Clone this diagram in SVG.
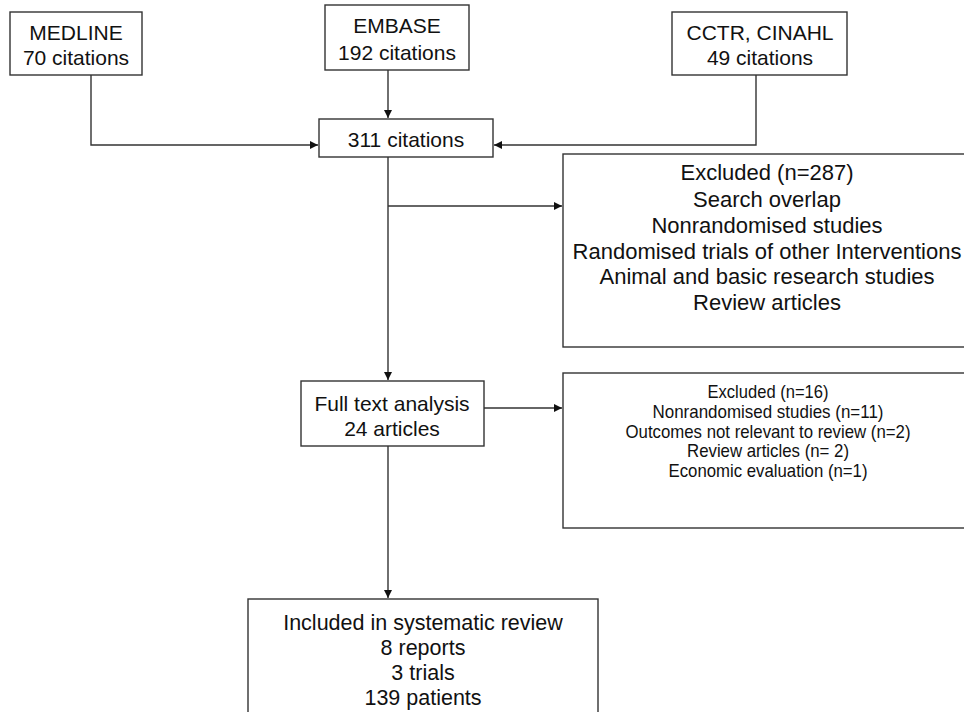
<svg xmlns="http://www.w3.org/2000/svg" width="964" height="712" viewBox="0 0 964 712">
<style>
.box{fill:#fff;stroke:#333;stroke-width:1.4}
.ln{fill:none;stroke:#333;stroke-width:1.4}
text{font-family:"Liberation Sans",Arial,sans-serif;fill:#111;text-anchor:middle}
.t{font-size:21px}
.m{font-size:22px}
.s{font-size:18.5px}
</style>
<defs>
<marker id="ah" viewBox="0 0 10 10" refX="10" refY="5" markerWidth="8" markerHeight="8" markerUnits="userSpaceOnUse" orient="auto">
<path d="M0,0 L10,5 L0,10 z" fill="#111"/>
</marker>
</defs>
<rect width="964" height="712" fill="#fff"/>
<g id="connectors">
<path class="ln" d="M91,75 V145 H318" marker-end="url(#ah)"/>
<path class="ln" d="M388,70 V118" marker-end="url(#ah)"/>
<path class="ln" d="M756,75 V145 H494" marker-end="url(#ah)"/>
<path class="ln" d="M388,157 V380" marker-end="url(#ah)"/>
<path class="ln" d="M388,206 H562" marker-end="url(#ah)"/>
<path class="ln" d="M484,408 H562" marker-end="url(#ah)"/>
<path class="ln" d="M388,446 V598" marker-end="url(#ah)"/>
</g>
<g id="medline">
<rect class="box" x="10" y="12" width="132" height="63"/>
<text class="t" x="76" y="39.5">MEDLINE</text>
<text class="t" x="76" y="64.5">70 citations</text>
</g>
<g id="embase">
<rect class="box" x="325" y="5" width="144" height="65"/>
<text class="t" x="397" y="32.5">EMBASE</text>
<text class="t" x="397" y="59.5">192 citations</text>
</g>
<g id="cctr">
<rect class="box" x="672" y="12" width="175" height="63"/>
<text class="t" x="760" y="39.5">CCTR, CINAHL</text>
<text class="t" x="760" y="64.5">49 citations</text>
</g>
<g id="citations311">
<rect class="box" x="319" y="119" width="174" height="38"/>
<text class="t" x="406" y="146.5">311 citations</text>
</g>
<g id="excluded287">
<rect class="box" x="563" y="154" width="410" height="193"/>
<text class="m" x="767" y="180">Excluded (n=287)</text>
<text class="m" x="767" y="207">Search overlap</text>
<text class="m" x="767" y="233">Nonrandomised studies</text>
<text class="m" x="767" y="259">Randomised trials of other Interventions</text>
<text class="m" x="767" y="284">Animal and basic research studies</text>
<text class="m" x="767" y="310">Review articles</text>
</g>
<g id="fulltext">
<rect class="box" x="301" y="381" width="183" height="65"/>
<text class="t" x="392" y="410.5">Full text analysis</text>
<text class="t" x="392" y="435.5">24 articles</text>
</g>
<g id="excluded16">
<rect class="box" x="563" y="373" width="410" height="155"/>
<text class="s" x="768" y="397.5" textLength="121" lengthAdjust="spacingAndGlyphs">Excluded (n=16)</text>
<text class="s" x="768" y="417.5" textLength="231" lengthAdjust="spacingAndGlyphs">Nonrandomised studies (n=11)</text>
<text class="s" x="768" y="437.5" textLength="285" lengthAdjust="spacingAndGlyphs">Outcomes not relevant to review (n=2)</text>
<text class="s" x="768" y="456.5" textLength="162" lengthAdjust="spacingAndGlyphs">Review articles (n= 2)</text>
<text class="s" x="768" y="476.5" textLength="199" lengthAdjust="spacingAndGlyphs">Economic evaluation (n=1)</text>
</g>
<g id="included">
<rect class="box" x="248" y="599" width="350" height="130"/>
<text class="t" x="423" y="629.5" style="font-size:21.5px">Included in systematic review</text>
<text class="t" x="423" y="654.5" style="font-size:21.5px">8 reports</text>
<text class="t" x="423" y="679.5" style="font-size:21.5px">3 trials</text>
<text class="t" x="423" y="704.5" style="font-size:21.5px">139 patients</text>
</g>
</svg>
